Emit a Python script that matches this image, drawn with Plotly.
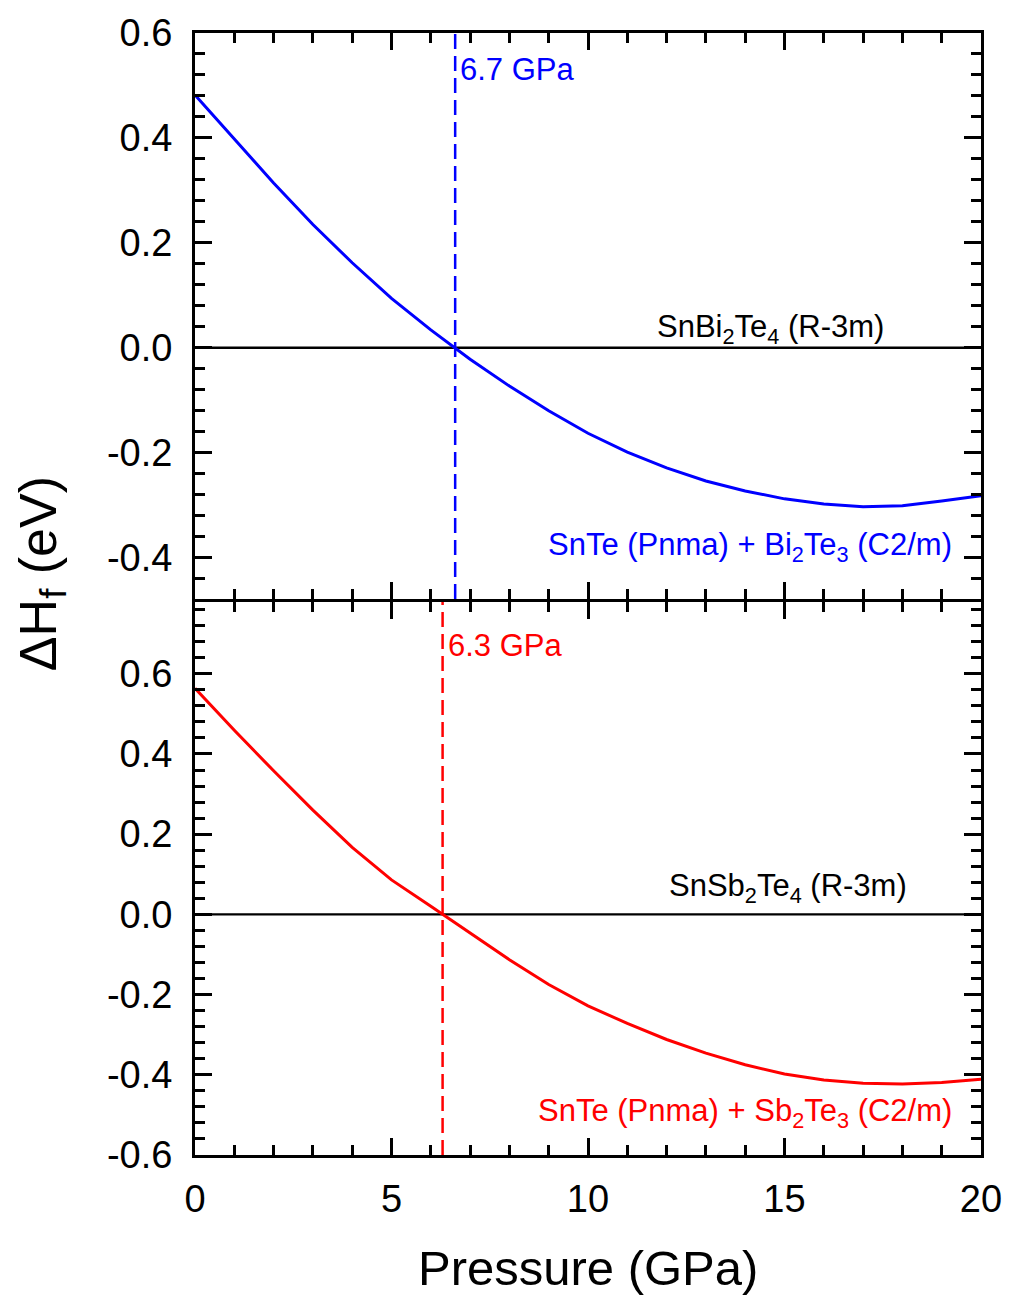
import plotly.graph_objects as go

# ---- data ----
pressure = [0, 1, 2, 3, 4, 5, 6, 7, 8, 9, 10, 11, 12, 13, 14, 15, 16, 17, 18, 19, 20]
dH_SnBi2Te4 = [0.482, 0.397, 0.314, 0.235, 0.162, 0.094, 0.034, -0.022, -0.073, -0.120,
               -0.163, -0.199, -0.229, -0.254, -0.273, -0.288, -0.298, -0.303, -0.301,
               -0.292, -0.282]
dH_SnSb2Te4 = [0.564, 0.459, 0.358, 0.260, 0.167, 0.086, 0.020, -0.047, -0.113, -0.175,
               -0.228, -0.272, -0.312, -0.346, -0.375, -0.398, -0.413, -0.421, -0.423,
               -0.419, -0.411]
transition_top = [6.62]
transition_bottom = [6.3]
transition_labels = ["6.7 GPa", "6.3 GPa"]

y_top_ticks = [-0.4, -0.2, 0.0, 0.2, 0.4, 0.6]
y_top_text = ["-0.4", "-0.2", "0.0", "0.2", "0.4", "0.6"]
y_bot_ticks = [-0.6, -0.4, -0.2, 0.0, 0.2, 0.4, 0.6]
y_bot_text = ["-0.6", "-0.4", "-0.2", "0.0", "0.2", "0.4", "0.6"]
x_ticks = [0, 5, 10, 15, 20]
x_text = ["0", "5", "10", "15", "20"]

BLUE = "#0000FF"
RED = "#FF0000"
FONT = "Liberation Sans, Arial, sans-serif"

fig = go.Figure()

# zero lines
fig.add_trace(go.Scatter(x=[pressure[0], pressure[-1]], y=[0, 0], mode="lines",
                         line=dict(color="black", width=2.4), xaxis="x2", yaxis="y2",
                         showlegend=False, hoverinfo="skip"))
fig.add_trace(go.Scatter(x=[pressure[0], pressure[-1]], y=[0, 0], mode="lines",
                         line=dict(color="black", width=2.4), xaxis="x", yaxis="y",
                         showlegend=False, hoverinfo="skip"))

fig.add_trace(go.Scatter(x=pressure, y=dH_SnBi2Te4, mode="lines",
                         line=dict(color=BLUE, width=3), xaxis="x2", yaxis="y2",
                         showlegend=False))
fig.add_trace(go.Scatter(x=pressure, y=dH_SnSb2Te4, mode="lines",
                         line=dict(color=RED, width=3), xaxis="x", yaxis="y",
                         showlegend=False))

# dashed transition lines
fig.add_shape(type="line", xref="x2", yref="y2 domain", x0=transition_top[0], x1=transition_top[0],
              y0=0, y1=1, line=dict(color=BLUE, width=2.5, dash="15px,7px"))
fig.add_shape(type="line", xref="x", yref="y domain", x0=transition_bottom[0], x1=transition_bottom[0],
              y0=0, y1=1, line=dict(color=RED, width=2.5, dash="15px,7px"))

bot_top = 0.4929
top_bot = 0.4955

axis_common = dict(showline=True, linecolor="black", linewidth=3, mirror="allticks",
                   ticks="inside", tickcolor="black", tickwidth=2.5, showgrid=False,
                   zeroline=False, ticklabeloverflow="allow",
                   tickfont=dict(family=FONT, size=38, color="black"))

minor_x = dict(ticks="inside", ticklen=10, tickwidth=2.5, tickcolor="black", dtick=1, tick0=0)
minor_y = dict(ticks="inside", ticklen=10, tickwidth=2.5, tickcolor="black", dtick=0.04, tick0=0)

fig.update_layout(
    width=1014, height=1296,
    margin=dict(l=195, r=26, t=32, b=141),
    paper_bgcolor="white", plot_bgcolor="white",
    font=dict(family=FONT, color="black"),
    xaxis=dict(domain=[0, 1], anchor="y", range=[0, 20], tickvals=x_ticks, ticktext=x_text,
               ticklen=17, ticklabelstandoff=8, minor=minor_x, **axis_common),
    yaxis=dict(domain=[0, bot_top], anchor="x", range=[-0.6, 0.779], tickvals=y_bot_ticks,
               ticktext=y_bot_text, ticklen=17, ticklabelstandoff=12, minor=minor_y,
               **axis_common),
    xaxis2=dict(domain=[0, 1], anchor="y2", range=[0, 20], tickvals=x_ticks,
                showticklabels=False, ticklen=17, minor=minor_x, **axis_common),
    yaxis2=dict(domain=[top_bot, 1], anchor="x2", range=[-0.479, 0.6], tickvals=y_top_ticks,
                ticktext=y_top_text, ticklen=17, ticklabelstandoff=12, minor=minor_y,
                **axis_common),
)

ann_font = dict(family=FONT, size=31)
annotations = [
    dict(text=transition_labels[0], x=transition_top[0], y=0.531, xref="x2", yref="y2",
         xanchor="left", yanchor="middle", xshift=3, showarrow=False,
         font=dict(color=BLUE, **ann_font)),
    dict(text=transition_labels[1], x=transition_bottom[0], y=0.67, xref="x", yref="y",
         xanchor="left", yanchor="middle", xshift=3, showarrow=False,
         font=dict(color=RED, **ann_font)),
    dict(text="SnBi<sub>2</sub>Te<sub>4</sub> (R-3m)", x=14.65, y=0.035, xref="x2", yref="y2",
         xanchor="center", yanchor="middle", showarrow=False,
         font=dict(color="black", **ann_font)),
    dict(text="SnTe (Pnma) + Bi<sub>2</sub>Te<sub>3</sub> (C2/m)", x=19.32, y=-0.38,
         xref="x2", yref="y2", xanchor="right", yanchor="middle", showarrow=False,
         font=dict(color=BLUE, **ann_font)),
    dict(text="SnSb<sub>2</sub>Te<sub>4</sub> (R-3m)", x=15.1, y=0.065, xref="x", yref="y",
         xanchor="center", yanchor="middle", showarrow=False,
         font=dict(color="black", **ann_font)),
    dict(text="SnTe (Pnma) + Sb<sub>2</sub>Te<sub>3</sub> (C2/m)", x=19.32, y=-0.495,
         xref="x", yref="y", xanchor="right", yanchor="middle", showarrow=False,
         font=dict(color=RED, **ann_font)),
    dict(text="Pressure (GPa)", x=0.5, y=-0.1006, xref="paper", yref="paper",
         xanchor="center", yanchor="middle", showarrow=False,
         font=dict(family=FONT, size=49, color="black")),
    dict(text="ΔH<sub>f</sub> (eV)", x=-0.1955, y=0.518, xref="paper", yref="paper",
         xanchor="center", yanchor="middle", textangle=-90, showarrow=False,
         font=dict(family=FONT, size=52, color="black")),
]
fig.update_layout(annotations=annotations)

fig.write_html("out.html", config={"displayModeBar": False},
               post_script="document.body.style.margin='0';")
